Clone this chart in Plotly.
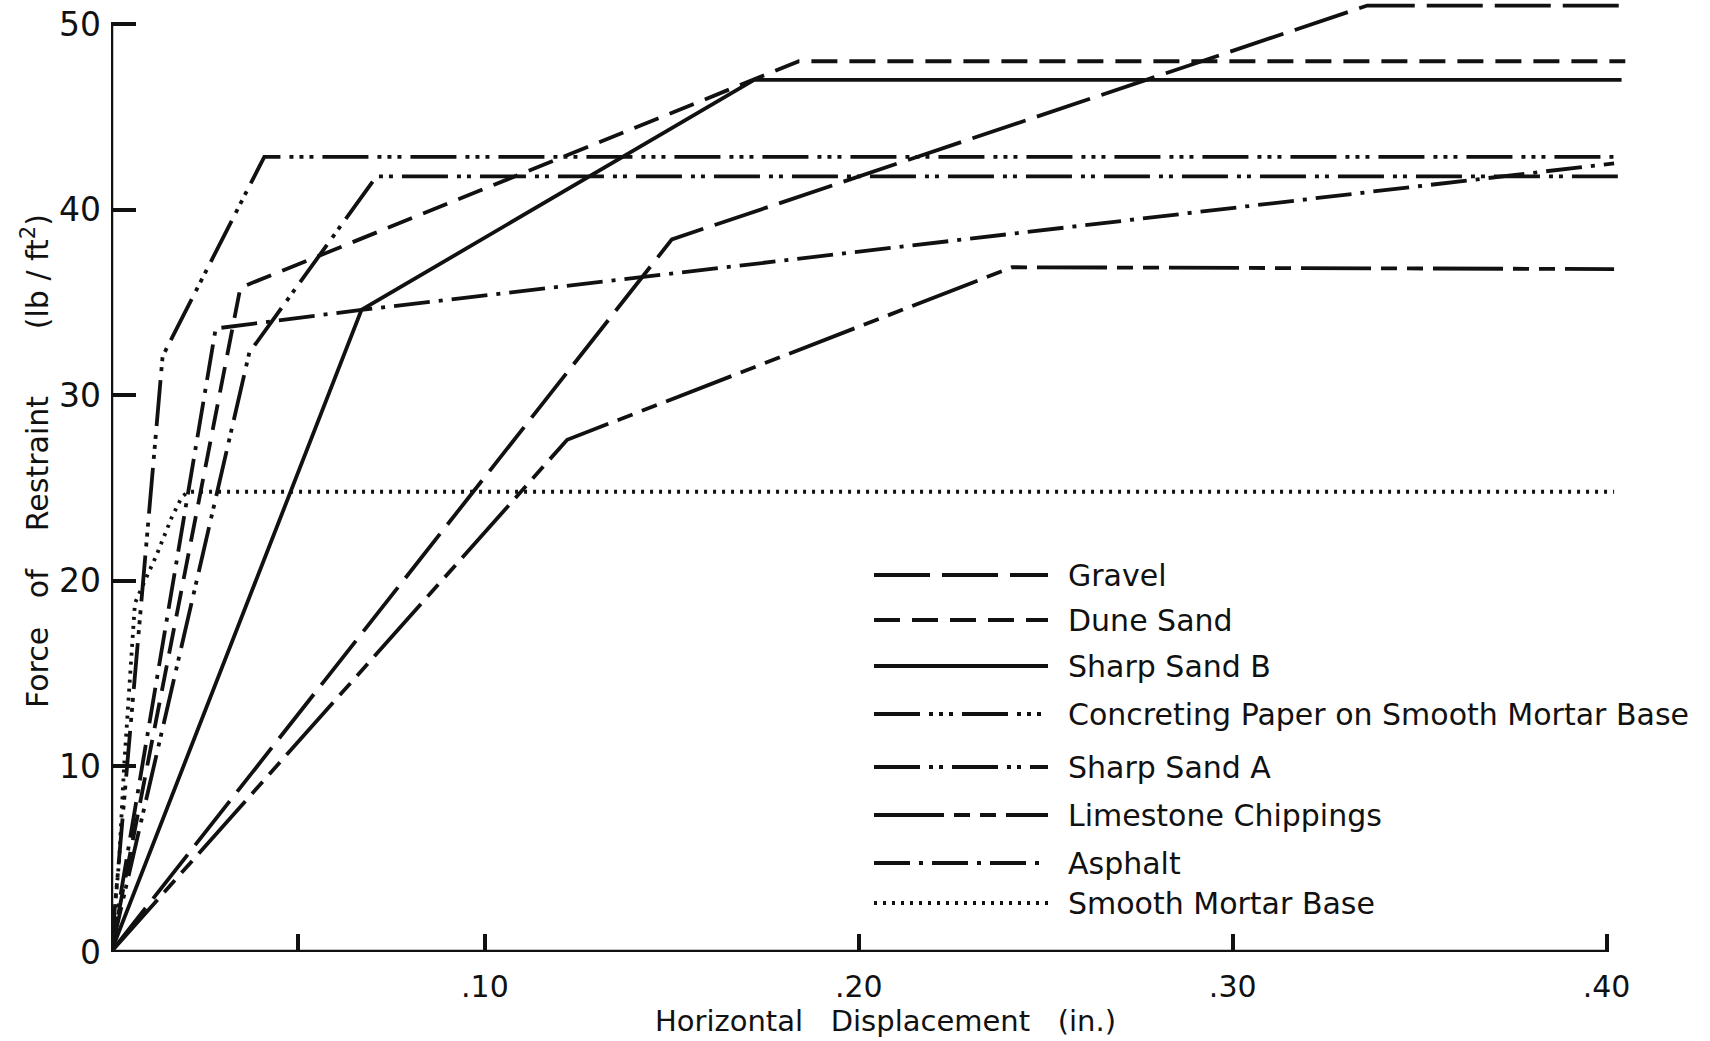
import plotly.graph_objects as go

# ---------------- data ----------------
series_names = [
    "Gravel",
    "Dune Sand",
    "Sharp Sand B",
    "Concreting Paper on Smooth Mortar Base",
    "Sharp Sand A",
    "Limestone Chippings",
    "Asphalt",
    "Smooth Mortar Base",
]

gravel_x = [0, 0.150, 0.336, 0.404]
gravel_y = [0, 38.4, 51.0, 51.0]

dune_x = [0, 0.0346, 0.184, 0.405]
dune_y = [0, 35.8, 48.0, 48.0]

sharpB_x = [0, 0.067, 0.172, 0.404]
sharpB_y = [0, 34.6, 47.0, 47.0]

paper_x = [0, 0.0138, 0.041, 0.403]
paper_y = [0, 32.1, 42.85, 42.85]

sharpA_x = [0, 0.037, 0.071, 0.403]
sharpA_y = [0, 32.3, 41.8, 41.8]

lime_x = [0, 0.122, 0.241, 0.402]
lime_y = [0, 27.6, 36.9, 36.8]

asphalt_x = [0, 0.028, 0.067, 0.240, 0.402]
asphalt_y = [0, 33.6, 34.6, 38.7, 42.5]

mortar_x = [0, 0.0022, 0.0035, 0.0060, 0.0064, 0.0086, 0.0122, 0.0162, 0.0189, 0.0205, 0.402]
mortar_y = [0, 5.0, 10.0, 17.0, 18.8, 19.8, 21.4, 23.4, 24.5, 24.8, 24.8]

x_tickvals = [0.10, 0.20, 0.30, 0.40]
x_ticktext = [".10", ".20", ".30", ".40"]
x_minor_tickvals = [0.05]
y_tickvals = [0, 10, 20, 30, 40, 50]
y_ticktext = ["0", "10", "20", "30", "40", "50"]

NB = "\u00a0"
x_title = "Horizontal" + NB * 3 + "Displacement" + NB * 3 + "(in.)"
y_title = "Force" + NB * 3 + "of" + NB * 4 + "Restraint" + NB * 7 + "(lb" + NB + "/" + NB + "ft<sup>2</sup>)"

# ---------------- styles ----------------
W, H = 1710, 1041
ML, MR, MT, MB = 111, 66, 0, 89
X_RANGE = [0, 0.41]
Y_RANGE = [0, 51.3]
FONT = "DejaVu Sans"
INK = "#111111"
LW = 3.8

dashes = [
    "56px,12px",                                   # Gravel
    "26px,12px",                                   # Dune Sand
    "solid",                                       # Sharp Sand B
    "46px,9px,4px,6px,4px,6px,4px,9px",            # Concreting Paper
    "46px,9px,4px,6px,4px,9px",                    # Sharp Sand A
    "70px,10px,16px,10px,16px,10px",               # Limestone Chippings
    "36px,9px,4px,9px",                            # Asphalt
    "3px,6px",                                     # Smooth Mortar Base
]

xs = [gravel_x, dune_x, sharpB_x, paper_x, sharpA_x, lime_x, asphalt_x, mortar_x]
ys = [gravel_y, dune_y, sharpB_y, paper_y, sharpA_y, lime_y, asphalt_y, mortar_y]

fig = go.Figure()
for name, x, y, d in zip(series_names, xs, ys, dashes):
    fig.add_trace(go.Scatter(
        x=x, y=y, mode="lines", name=name, showlegend=False,
        line=dict(color=INK, width=LW, dash=d),
    ))

plot_w = W - ML - MR
plot_h = H - MT - MB


def pxx(p):
    return (p - ML) / plot_w


def pxy(p):
    return (H - MB - p) / plot_h


# hand-drawn style legend (long line samples)
legend_rows = [575, 620, 666, 714, 767, 815, 863, 903]
shapes = []
annotations = []
for name, d, ry in zip(series_names, dashes, legend_rows):
    shapes.append(dict(
        type="line", xref="paper", yref="paper",
        x0=pxx(874), x1=pxx(1048), y0=pxy(ry), y1=pxy(ry),
        line=dict(color=INK, width=LW, dash=d),
    ))
    annotations.append(dict(
        xref="paper", yref="paper", x=pxx(1066), y=pxy(ry),
        xanchor="left", yanchor="middle", showarrow=False,
        text=name, font=dict(family=FONT, size=30, color=INK),
    ))

# axis lines (stop at the last tick, as in the original)
shapes.append(dict(type="line", xref="x", yref="y", x0=0, x1=0, y0=0, y1=50,
                   line=dict(color=INK, width=4.5)))
shapes.append(dict(type="line", xref="x", yref="y", x0=0, x1=0.40, y0=0, y1=0,
                   line=dict(color=INK, width=4.5)))

# axis titles
annotations.append(dict(
    xref="paper", yref="paper", x=pxx(885), y=pxy(1021),
    xanchor="center", yanchor="middle", showarrow=False,
    text=x_title, font=dict(family=FONT, size=29, color=INK),
))
annotations.append(dict(
    xref="paper", yref="paper", x=pxx(36), y=pxy(461),
    xanchor="center", yanchor="middle", showarrow=False, textangle=-90,
    text=y_title, font=dict(family=FONT, size=30, color=INK),
))

fig.update_layout(
    template="none",
    width=W, height=H,
    margin=dict(l=ML, r=MR, t=MT, b=MB, pad=0, autoexpand=False),
    paper_bgcolor="white", plot_bgcolor="white",
    showlegend=False,
    shapes=shapes, annotations=annotations,
    xaxis=dict(
        range=X_RANGE, showgrid=False, zeroline=False, showline=False,
        automargin=False,
        tickmode="array", tickvals=x_tickvals, ticktext=x_ticktext,
        ticks="inside", ticklen=18, tickwidth=3.5, tickcolor=INK,
        ticklabelstandoff=14,
        tickfont=dict(family=FONT, size=30, color=INK),
        minor=dict(tickmode="array", tickvals=x_minor_tickvals, ticks="inside",
                   ticklen=18, tickwidth=3.5, tickcolor=INK, showgrid=False),
    ),
    yaxis=dict(
        range=Y_RANGE, showgrid=False, zeroline=False, showline=False,
        automargin=False,
        tickmode="array", tickvals=y_tickvals, ticktext=y_ticktext,
        ticks="inside", ticklen=25, tickwidth=3.5, tickcolor=INK,
        ticklabelstandoff=9,
        tickfont=dict(family=FONT, size=33, color=INK),
    ),
)

# remove the browser's default 8px page margin so the figure sits at the corner
fig.write_html("out.html",
               config={"displayModeBar": False},
               post_script="document.body.style.margin='0';document.body.style.padding='0';")
